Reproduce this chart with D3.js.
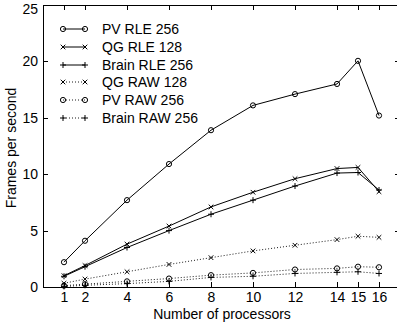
<!DOCTYPE html>
<html>
<head>
<meta charset="utf-8">
<script src="https://cdn.jsdelivr.net/npm/d3@7"></script>
<style>
  html, body { margin: 0; padding: 0; background: #fff; }
  svg { display: block; }
  text { font-family: "Liberation Sans", Arial, Helvetica, sans-serif; fill: #000; }
</style>
</head>
<body>
<svg id="chart" width="397" height="324"></svg>
<script>
const processors = [1, 2, 4, 6, 8, 10, 12, 14, 15, 16];
const xTicks = [1, 2, 4, 6, 8, 10, 12, 14, 15, 16];
const yTicks = [0, 5, 10, 15, 20, 25];

const seriesNames = ["PV RLE 256", "QG RLE 128", "Brain RLE 256", "QG RAW 128", "PV RAW 256", "Brain RAW 256"];
const pvRle256    = [2.2, 4.1, 7.7, 10.9, 13.9, 16.1, 17.1, 18.0, 20.05, 15.2];
const qgRle128    = [1.0, 1.9, 3.8, 5.4, 7.1, 8.4, 9.6, 10.5, 10.6, 8.45];
const brainRle256 = [0.95, 1.8, 3.5, 5.0, 6.45, 7.7, 8.95, 10.1, 10.15, 8.6];
const qgRaw128    = [0.33, 0.7, 1.35, 2.0, 2.6, 3.2, 3.7, 4.2, 4.5, 4.4];
const pvRaw256    = [0.12, 0.25, 0.5, 0.75, 1.05, 1.25, 1.55, 1.65, 1.8, 1.75];
const brainRaw256 = [0.05, 0.15, 0.3, 0.5, 0.85, 0.95, 1.2, 1.3, 1.35, 1.2];

const seriesValues = [pvRle256, qgRle128, brainRle256, qgRaw128, pvRaw256, brainRaw256];
const seriesMarkers = ["circle", "x", "plus", "x", "circle", "plus"];
const seriesDotted = [false, false, false, true, true, true];

const svg = d3.select("#chart");
const mLeft = 43, mRight = 400, mTop = 5, mBottom = 287;
const x = d3.scaleLinear().domain([0, 17]).range([mLeft, mRight]);
const y = d3.scaleLinear().domain([0, 25]).range([mBottom, mTop]);
const tickLen = 5;

// Frame
const g = svg.append("g");
g.append("rect").attr("x", mLeft).attr("y", mTop).attr("width", mRight - mLeft).attr("height", mBottom - mTop)
  .attr("fill", "none").attr("stroke", "#000").attr("stroke-width", 1).attr("shape-rendering", "crispEdges");

// Axes with inward ticks
const xAxisB = d3.axisBottom(x).tickValues(xTicks).tickSizeInner(-tickLen).tickSizeOuter(0).tickPadding(5).tickFormat(d3.format("d"));
const xAxisT = d3.axisTop(x).tickValues(xTicks).tickSizeInner(-tickLen).tickSizeOuter(0).tickFormat("");
const yAxisL = d3.axisLeft(y).tickValues(yTicks).tickSizeInner(-tickLen).tickSizeOuter(0).tickPadding(5).tickFormat(d3.format("d"));
const yAxisR = d3.axisRight(y).tickValues(yTicks).tickSizeInner(-tickLen).tickSizeOuter(0).tickFormat("");

function styleAxis(sel) {
  sel.select(".domain").remove();
  sel.selectAll("line").attr("stroke", "#000").attr("shape-rendering", "crispEdges");
  sel.selectAll("text").attr("font-size", 14).attr("font-family", "Liberation Sans, Arial, sans-serif").attr("fill", "#000");
}
g.append("g").attr("transform", `translate(0,${mBottom})`).call(xAxisB).call(styleAxis);
g.append("g").attr("transform", `translate(0,${mTop})`).call(xAxisT).call(styleAxis);
const yl = g.append("g").attr("transform", `translate(${mLeft},0)`).call(yAxisL).call(styleAxis);
// keep the top label inside the picture, as in the reference
yl.selectAll(".tick text").filter(d => d === 25).attr("dy", "0.62em");
g.append("g").attr("transform", `translate(${mRight},0)`).call(yAxisR).call(styleAxis);

// Axis labels
svg.append("text").attr("x", 222).attr("y", 319).attr("text-anchor", "middle").attr("font-size", 14)
  .text("Number of processors");
svg.append("text").attr("transform", "translate(16,148) rotate(-90)").attr("text-anchor", "middle").attr("font-size", 14)
  .text("Frames per second");

function drawMarker(sel, type, cx, cy) {
  if (type === "circle") {
    sel.append("circle").attr("cx", cx).attr("cy", cy).attr("r", 2.6)
      .attr("fill", "none").attr("stroke", "#000").attr("stroke-width", 1);
  } else if (type === "x") {
    const s = 2.3;
    sel.append("path").attr("d", `M${cx - s},${cy - s}L${cx + s},${cy + s}M${cx - s},${cy + s}L${cx + s},${cy - s}`)
      .attr("stroke", "#000").attr("stroke-width", 1).attr("fill", "none");
  } else {
    const s = 3;
    sel.append("path").attr("d", `M${cx - s},${cy}L${cx + s},${cy}M${cx},${cy - s}L${cx},${cy + s}`)
      .attr("stroke", "#000").attr("stroke-width", 1).attr("fill", "none");
  }
}

const line = d3.line().x((d, i) => x(processors[i])).y(d => y(d));
const plot = svg.append("g");
seriesValues.forEach((vals, k) => {
  plot.append("path").datum(vals).attr("d", line).attr("fill", "none").attr("stroke", "#000")
    .attr("stroke-width", seriesDotted[k] ? 0.9 : 1)
    .attr("stroke-dasharray", seriesDotted[k] ? "1,2" : null);
  vals.forEach((v, i) => drawMarker(plot, seriesMarkers[k], x(processors[i]), y(v)));
});

// Legend
const legend = svg.append("g");
const legendRowY = [29, 47, 65, 82, 100, 118];
seriesNames.forEach((name, k) => {
  const ly = legendRowY[k];
  legend.append("line").attr("x1", 63).attr("x2", 85).attr("y1", ly).attr("y2", ly)
    .attr("stroke", "#000").attr("stroke-width", seriesDotted[k] ? 0.9 : 1)
    .attr("stroke-dasharray", seriesDotted[k] ? "1,2" : null);
  drawMarker(legend, seriesMarkers[k], 63, ly);
  drawMarker(legend, seriesMarkers[k], 85, ly);
  legend.append("text").attr("x", 102).attr("y", ly + 5).attr("font-size", 14).text(name);
});
</script>
</body>
</html>
